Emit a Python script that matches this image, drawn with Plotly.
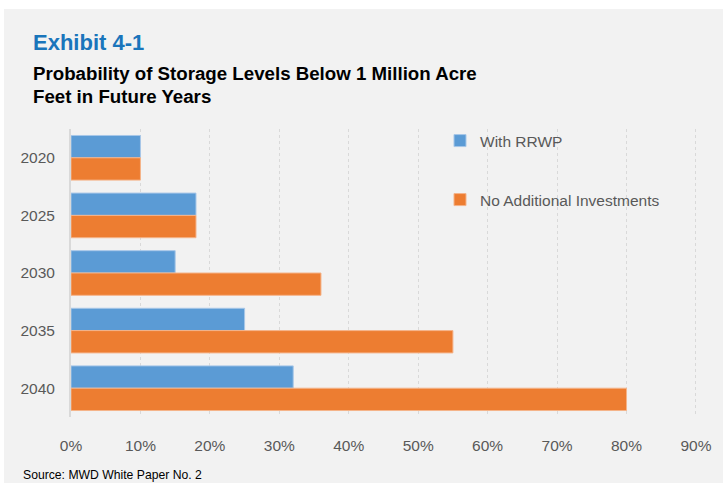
import plotly.graph_objects as go

# ---- data ----
years = ["2020", "2025", "2030", "2035", "2040"]
with_rrwp = [10, 18, 15, 25, 32]
no_additional = [10, 18, 36, 55, 80]
x_tickvals = [0, 10, 20, 30, 40, 50, 60, 70, 80, 90]
x_ticktext = ["0%", "10%", "20%", "30%", "40%", "50%", "60%", "70%", "80%", "90%"]

W, H = 723, 483
L, R, T, B = 71, 26, 129, 66
PW, PH = W - L - R, H - T - B

def px_x(px):
    return (px - L) / PW

def px_y(py):
    return (H - B - py) / PH

FONT = "Liberation Sans, Arial, Helvetica, sans-serif"
GRAY = "#595959"
BG = "#f2f2f2"

fig = go.Figure()
fig.add_trace(go.Bar(
    y=years, x=with_rrwp, orientation="h", name="With RRWP",
    marker=dict(color="#5b9bd5", line=dict(color="#a7c7e8", width=1)),
    legend="legend",
))
fig.add_trace(go.Bar(
    y=years, x=no_additional, orientation="h", name="No Additional Investments",
    marker=dict(color="#ed7d31", line=dict(color="#f5b48a", width=1)),
    legend="legend2",
))

legend_common = dict(
    font=dict(family=FONT, size=15.5, color=GRAY),
    bgcolor="rgba(0,0,0,0)", xanchor="left", yanchor="middle",
    itemwidth=30,
)

fig.update_layout(
    width=W, height=H,
    margin=dict(l=L, r=R, t=T, b=B, pad=0),
    paper_bgcolor=BG, plot_bgcolor=BG,
    barmode="group", bargap=0.225, bargroupgap=0,
    showlegend=True,
    legend=dict(x=px_x(440), y=px_y(141), **legend_common),
    legend2=dict(x=px_x(440), y=px_y(200), **legend_common),
    xaxis=dict(
        range=[0, 90.15], tickvals=x_tickvals, ticktext=x_ticktext,
        showgrid=True, gridcolor="#d9d9d9", griddash="dot", gridwidth=1,
        zeroline=False, showline=False,
        tickfont=dict(family=FONT, size=15.5, color=GRAY),
        ticks="outside", ticklen=14, tickcolor="rgba(0,0,0,0)",
        fixedrange=True,
    ),
    yaxis=dict(
        autorange="reversed", type="category",
        showgrid=False, zeroline=False,
        showline=True, linecolor="#d9d9d9", linewidth=2,
        tickfont=dict(family=FONT, size=15.5, color=GRAY),
        ticks="outside", ticklen=11, tickcolor="rgba(0,0,0,0)",
        fixedrange=True,
    ),
    shapes=[
        dict(type="rect", xref="paper", yref="paper", layer="below",
             x0=px_x(-5), x1=px_x(W + 5), y0=px_y(-5), y1=px_y(9),
             fillcolor="white", line=dict(width=0)),
        dict(type="rect", xref="paper", yref="paper", layer="below",
             x0=px_x(-5), x1=px_x(4), y0=px_y(-5), y1=px_y(H + 5),
             fillcolor="white", line=dict(width=0)),
    ],
    annotations=[
        dict(text="<b>Exhibit 4-1</b>", xref="paper", yref="paper",
             x=px_x(31), y=px_y(42), xanchor="left", yanchor="middle",
             showarrow=False, font=dict(family=FONT, size=22, color="#1a75bb")),
        dict(text="<b>Probability of Storage Levels Below 1 Million Acre</b>",
             xref="paper", yref="paper",
             x=px_x(31), y=px_y(73), xanchor="left", yanchor="middle",
             showarrow=False, font=dict(family=FONT, size=18.7, color="#000000")),
        dict(text="<b>Feet in Future Years</b>",
             xref="paper", yref="paper",
             x=px_x(31), y=px_y(96), xanchor="left", yanchor="middle",
             showarrow=False, font=dict(family=FONT, size=18.7, color="#000000")),
        dict(text="Source: MWD White Paper No. 2",
             xref="paper", yref="paper",
             x=px_x(21), y=px_y(475), xanchor="left", yanchor="middle",
             showarrow=False, font=dict(family=FONT, size=12.2, color="#000000")),
    ],
)

fig.write_html("out.html")
